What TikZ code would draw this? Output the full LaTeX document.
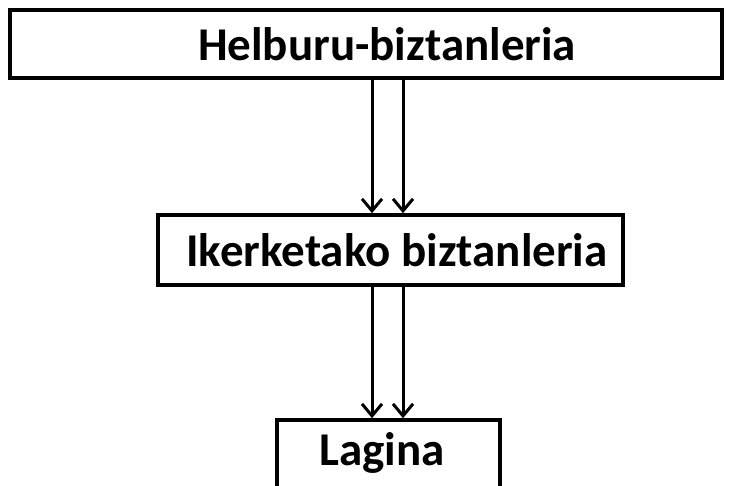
\documentclass[tikz,border=0pt]{standalone}
\usepackage{fontspec}
\setmainfont{Carlito}
\usetikzlibrary{positioning,arrows.meta}
\tikzset{font=\bfseries\fontsize{47}{50}\selectfont}

\begin{document}
\begin{tikzpicture}[x=1pt,y=1pt]
	\useasboundingbox (0,0) rectangle (731,-485);
	\tikzstyle{box}=[draw, line width=3.6pt, inner sep=0pt, align=center]
	\tikzstyle{arr}=[line width=3pt, -{Straight Barb[length=12pt,width=20pt,line width=3pt]}]
	\node[box, minimum width=712, minimum height=68] (target) at (366,-44) {\hspace{42pt}Helburu-biztanleria};
	\node[box, minimum width=465, minimum height=70] (study) at (390.5,-250) {\hspace{13pt}Ikerketako biztanleria};
	\node[box, minimum width=223, minimum height=80, text height=35pt, text depth=25pt] (sample) at (388.5,-460) {Lagina\hspace{13pt}};

	\coordinate (a1) at (372,0);
	\coordinate (a2) at (403,0);
	\draw[arr] (a1 |- target.south) -- (a1 |- study.north);
	\draw[arr] (a2 |- target.south) -- (a2 |- study.north);
	\draw[arr] (a1 |- study.south) -- (a1 |- sample.north);
	\draw[arr] (a2 |- study.south) -- (a2 |- sample.north);
\end{tikzpicture}
\end{document}
